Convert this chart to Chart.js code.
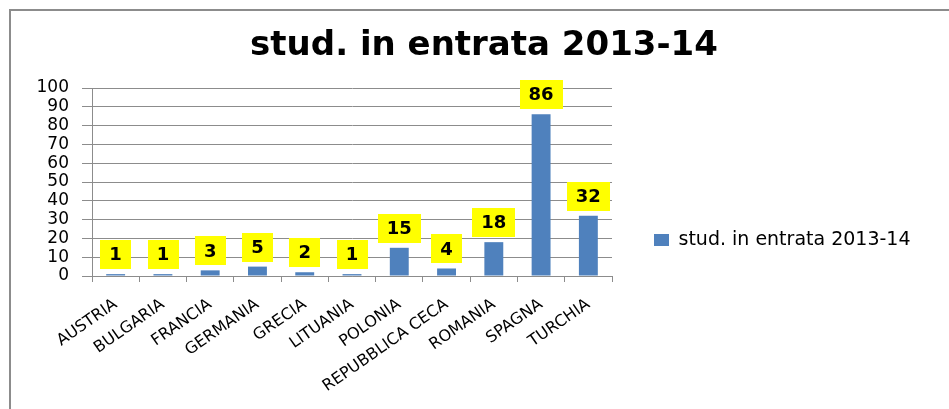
<!DOCTYPE html>
<html>
<head>
<meta charset="utf-8">
<script src="https://cdn.jsdelivr.net/npm/chart.js@4/dist/chart.umd.min.js"></script>
<style>
  html, body { margin: 0; padding: 0; background: #fff; }
  #wrap { position: relative; width: 949px; height: 409px; overflow: hidden; }
  #frame { position: absolute; left: 9px; top: 9px; right: -5px; bottom: -5px;
           border-left: 2px solid #8c8c8c; border-top: 2px solid #8c8c8c; pointer-events: none; }
  canvas { position: absolute; left: 0; top: 0; }
</style>
</head>
<body>
<div id="wrap">
  <canvas id="c" width="949" height="409"></canvas>
  <div id="frame"></div>
</div>
<script>
const chartTitle = "stud. in entrata 2013-14";
const seriesName = "stud. in entrata 2013-14";
const categories = ["AUSTRIA", "BULGARIA", "FRANCIA", "GERMANIA", "GRECIA", "LITUANIA",
                    "POLONIA", "REPUBBLICA CECA", "ROMANIA", "SPAGNA", "TURCHIA"];
const values = [1, 1, 3, 5, 2, 1, 15, 4, 18, 86, 32];
const yMin = 0, yMax = 100, yStep = 10;

const FONT = '"DejaVu Sans", "Open Sans", sans-serif';
const W = 949;
const legendFontSize = 19;
const legendBox = 15;
const legendPad = 42;
const plotRight = 612;
const plotTop = 88;

// Chart.js caps a side box at a quarter of the width, so reserve the rest as padding
const padRight = Math.round(W - plotRight * 4 / 3);

// let the legend box span from the plot's right edge to the page edge (it clips to its box)
const legendSpan = {
  id: 'legendSpan',
  afterLayout(chart) {
    const lg = chart.legend;
    const ca = chart.chartArea;
    lg.left = ca.right;
    lg.right = W;
    lg.width = W - ca.right;
    lg.top = ca.top;
    lg.bottom = ca.bottom;
    lg.height = ca.bottom - ca.top;
  }
};

const titlePlugin = {
  id: 'titleText',
  afterDraw(chart) {
    const ctx = chart.ctx;
    ctx.save();
    ctx.font = 'bold 34px ' + FONT;
    ctx.fillStyle = '#000';
    ctx.textAlign = 'center';
    ctx.textBaseline = 'middle';
    ctx.fillText(chartTitle, 484, 46);
    ctx.restore();
  }
};

const valueLabels = {
  id: 'valueLabels',
  afterDatasetsDraw(chart) {
    const ctx = chart.ctx;
    const meta = chart.getDatasetMeta(0);
    ctx.save();
    ctx.font = 'bold 18px ' + FONT;
    ctx.textAlign = 'center';
    ctx.textBaseline = 'middle';
    meta.data.forEach((bar, i) => {
      const txt = String(chart.data.datasets[0].data[i]);
      const w = ctx.measureText(txt).width + 18;
      const h = 29;
      const bottom = bar.y - 5;
      ctx.fillStyle = '#FFFF00';
      ctx.fillRect(Math.round(bar.x - w / 2), Math.round(bottom - h), Math.round(w), h);
      ctx.fillStyle = '#000';
      ctx.fillText(txt, bar.x, bottom - h / 2 + 1);
    });
    ctx.restore();
  }
};

new Chart(document.getElementById('c'), {
  type: 'bar',
  data: {
    labels: categories,
    datasets: [{
      label: seriesName,
      data: values,
      backgroundColor: '#4F81BD',
      borderWidth: 0,
      barPercentage: 0.4,
      categoryPercentage: 1.0
    }]
  },
  options: {
    responsive: false,
    animation: false,
    devicePixelRatio: 1,
    layout: { padding: { left: 0, right: padRight, top: plotTop, bottom: 0 } },
    plugins: {
      title: { display: false },
      legend: {
        display: true,
        position: 'right',
        align: 'center',
        title: { display: true, text: ' ', padding: { top: 0, bottom: 104 }, font: { size: 10 } },
        labels: {
          color: '#000',
          font: { family: FONT, size: legendFontSize },
          boxWidth: legendBox,
          boxHeight: 12,
          padding: legendPad
        }
      },
      tooltip: { enabled: false }
    },
    scales: {
      x: {
        grid: { offset: true, drawOnChartArea: false, drawTicks: true, tickLength: 6, color: '#8c8c8c' },
        border: { display: true, color: '#8c8c8c', width: 1 },
        ticks: {
          color: '#000',
          font: { family: FONT, size: 16 },
          minRotation: 35,
          maxRotation: 35,
          autoSkip: false,
          padding: 13
        },
        afterFit(scale) { scale.height = 133; }
      },
      y: {
        min: yMin,
        max: yMax,
        grid: { color: '#8c8c8c', tickLength: 10, drawTicks: true },
        border: { display: true, color: '#8c8c8c', width: 1 },
        ticks: {
          stepSize: yStep,
          autoSkip: false,
          color: '#000',
          font: { family: FONT, size: 17 },
          padding: 13
        },
        afterFit(scale) { scale.width = 92; }
      }
    }
  },
  plugins: [legendSpan, valueLabels, titlePlugin]
});
</script>
</body>
</html>
